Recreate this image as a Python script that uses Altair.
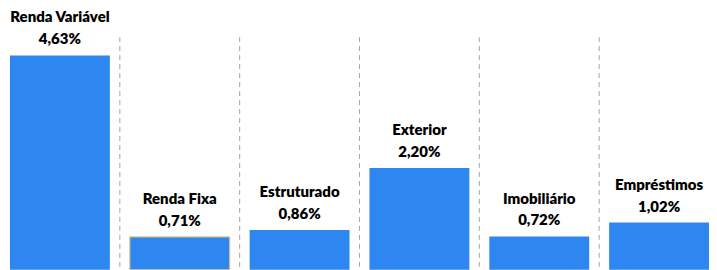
import altair as alt
import pandas as pd

categories = ["Renda Variável", "Renda Fixa", "Estruturado", "Exterior", "Imobiliário", "Empréstimos"]
values = [4.63, 0.71, 0.86, 2.20, 0.72, 1.02]

df = pd.DataFrame({"cat": categories, "val": values})
df["lbl"] = [f"{v:.2f}%".replace(".", ",") for v in values]
df["outlined"] = [c == "Renda Fixa" for c in categories]

W, H = 701, 262
xscale = alt.Scale(domain=categories, range=[-8, 712], paddingInner=1 / 6, paddingOuter=1 / 12)
yscale = alt.Scale(domain=[0, 5.65], nice=False, zero=True)

x = alt.X("cat:N", scale=xscale, axis=None, sort=categories)
y = alt.Y("val:Q", scale=yscale, axis=None)

bars = alt.Chart(df).mark_bar(color="#2E86F0", clip=False).encode(
    x=x,
    y=y,
    stroke=alt.condition("datum.outlined", alt.value("#D8C28E"), alt.value(None)),
    strokeWidth=alt.value(1.2),
)

rules_df = pd.DataFrame({"cat": categories[:-1]})
rules = alt.Chart(rules_df).mark_rule(
    color="#A6A6A6", strokeDash=[5, 4], strokeWidth=1, xOffset=10
).encode(
    x=alt.X("cat:N", scale=xscale, axis=None, sort=categories, bandPosition=1),
    y=alt.value(29),
    y2=alt.value(H),
)

font = "Lato"
val_txt = alt.Chart(df).mark_text(
    font=font, fontSize=15, fontWeight=800, color="#000000", baseline="middle", dy=-16
).encode(x=alt.X("cat:N", scale=xscale, axis=None, sort=categories, bandPosition=0.5), y=y, text="lbl:N")

name_txt = alt.Chart(df).mark_text(
    font=font, fontSize=15, fontWeight=800, color="#000000", baseline="middle", dy=-38
).encode(x=alt.X("cat:N", scale=xscale, axis=None, sort=categories, bandPosition=0.5), y=y, text="cat:N")

chart = alt.layer(rules, bars, val_txt, name_txt).properties(
    width=W, height=H, padding=0, background="white"
).configure_view(stroke=None)

chart.save("out.html", embed_options={"renderer": "svg", "actions": False})
